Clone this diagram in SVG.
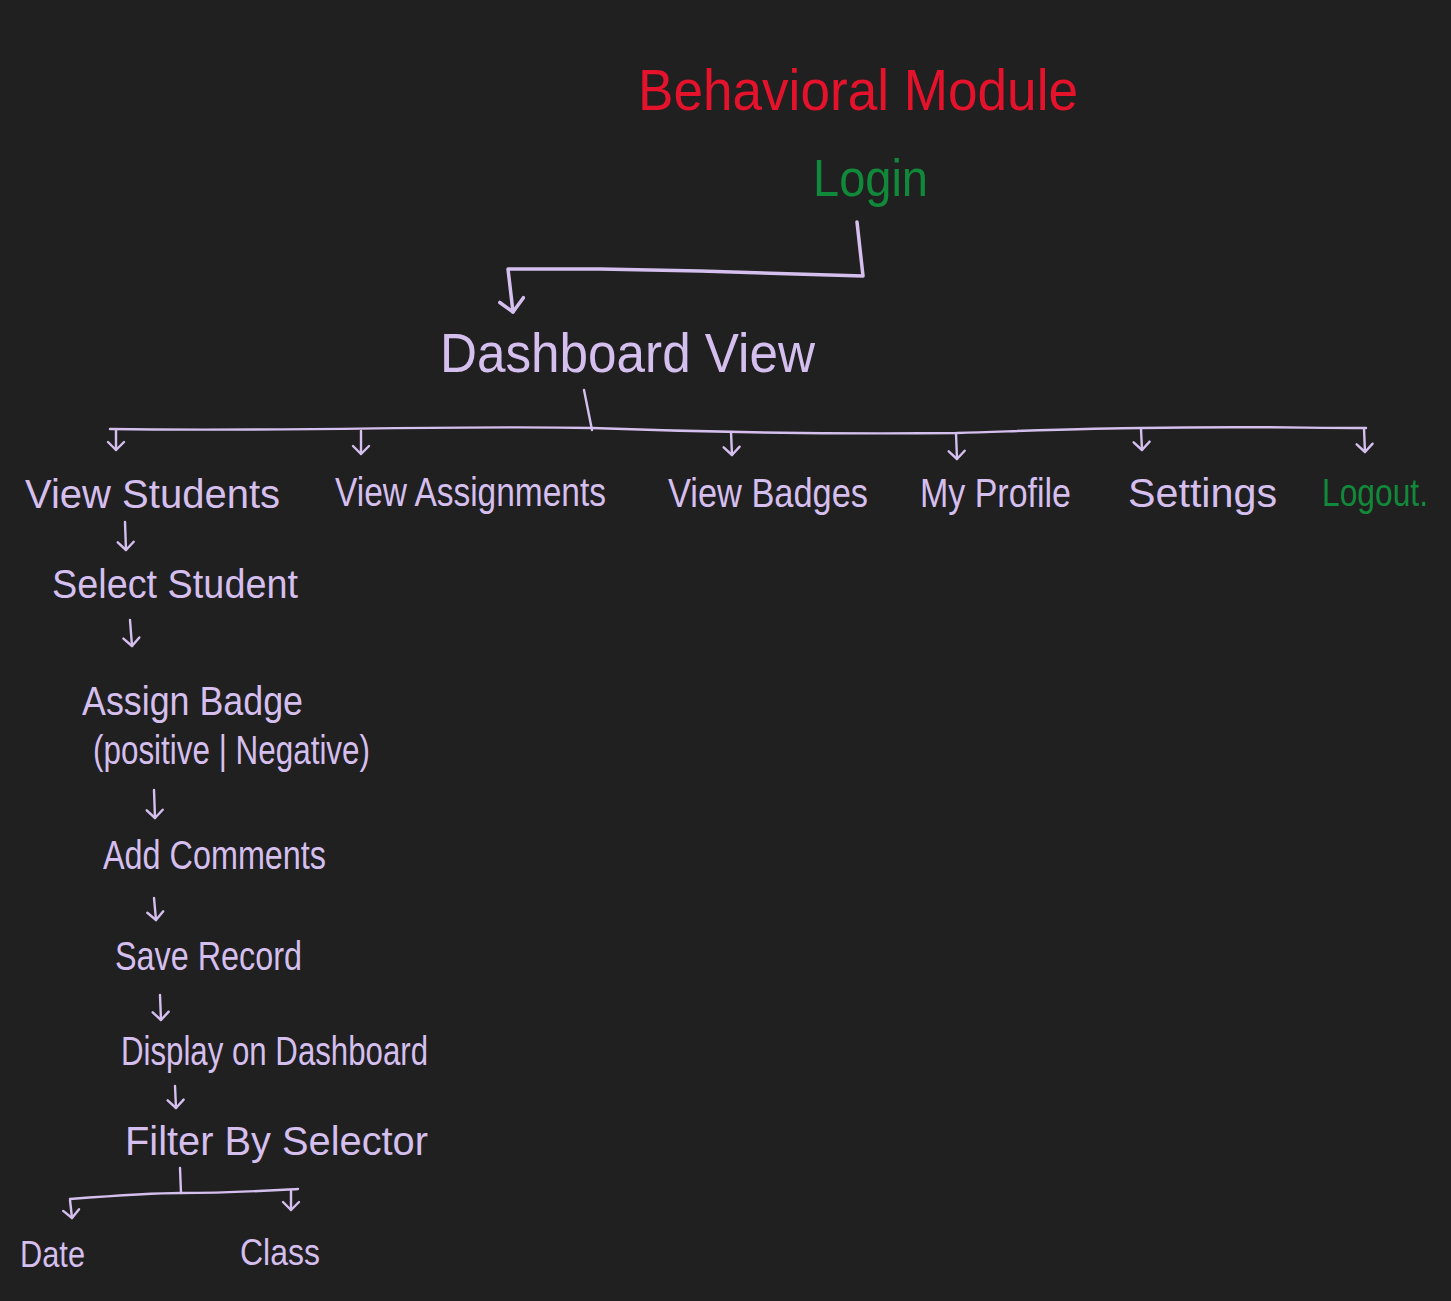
<svg xmlns="http://www.w3.org/2000/svg" width="1451" height="1301" viewBox="0 0 1451 1301">
<defs>
<marker id="ah" viewBox="0 0 20 20" refX="18" refY="10" markerWidth="20" markerHeight="20" markerUnits="userSpaceOnUse" orient="auto">
<path d="M10 2 L18 10 L10 18" fill="none" stroke="#d4bfee" stroke-width="2.4" stroke-linecap="round" stroke-linejoin="round"/>
</marker>
<marker id="ahb" viewBox="0 0 28 28" refX="25" refY="14" markerWidth="28" markerHeight="28" markerUnits="userSpaceOnUse" orient="auto">
<path d="M12 2 L25 14 L14 26" fill="none" stroke="#d4bfee" stroke-width="3.5" stroke-linecap="round" stroke-linejoin="round"/>
</marker>
</defs>
<style>
text{font-family:"Liberation Sans","DejaVu Sans",sans-serif;}
.l{fill:#d4bfee;}
.r{fill:#e5122c;}
.g{fill:#11893a;}
.c{fill:none;stroke:#d4bfee;stroke-width:2.4;stroke-linecap:round;stroke-linejoin:round;}
.cb{fill:none;stroke:#d4bfee;stroke-width:3.5;stroke-linecap:round;stroke-linejoin:round;}
</style>
<rect width="1451" height="1301" fill="#212020"/>
<g id="title"><text class="r" x="638" y="110" font-size="58" textLength="440" lengthAdjust="spacingAndGlyphs">Behavioral Module</text></g>
<g id="login"><text class="g" x="813" y="196" font-size="52" textLength="115" lengthAdjust="spacingAndGlyphs">Login</text></g>
<g id="dashboard"><text class="l" x="440" y="372" font-size="56" textLength="375" lengthAdjust="spacingAndGlyphs">Dashboard View</text></g>
<g id="view-students"><text class="l" x="25" y="508" font-size="40" textLength="255" lengthAdjust="spacingAndGlyphs">View Students</text></g>
<g id="view-assignments"><text class="l" x="335" y="506" font-size="40" textLength="271" lengthAdjust="spacingAndGlyphs">View Assignments</text></g>
<g id="view-badges"><text class="l" x="668" y="507" font-size="40" textLength="200" lengthAdjust="spacingAndGlyphs">View Badges</text></g>
<g id="my-profile"><text class="l" x="920" y="507" font-size="40" textLength="151" lengthAdjust="spacingAndGlyphs">My Profile</text></g>
<g id="settings"><text class="l" x="1128" y="507" font-size="40" textLength="149" lengthAdjust="spacingAndGlyphs">Settings</text></g>
<g id="logout"><text class="g" x="1322" y="506" font-size="38" textLength="106" lengthAdjust="spacingAndGlyphs">Logout.</text></g>
<g id="select-student"><text class="l" x="52" y="598" font-size="40" textLength="246" lengthAdjust="spacingAndGlyphs">Select Student</text></g>
<g id="assign-badge">
<text class="l" x="82" y="715" font-size="40" textLength="221" lengthAdjust="spacingAndGlyphs">Assign Badge</text>
<text class="l" x="93" y="764" font-size="40" textLength="277" lengthAdjust="spacingAndGlyphs">(positive | Negative)</text>
</g>
<g id="add-comments"><text class="l" x="103" y="869" font-size="40" textLength="223" lengthAdjust="spacingAndGlyphs">Add Comments</text></g>
<g id="save-record"><text class="l" x="115" y="970" font-size="40" textLength="187" lengthAdjust="spacingAndGlyphs">Save Record</text></g>
<g id="display-dashboard"><text class="l" x="121" y="1065" font-size="40" textLength="307" lengthAdjust="spacingAndGlyphs">Display on Dashboard</text></g>
<g id="filter"><text class="l" x="125" y="1155" font-size="40" textLength="303" lengthAdjust="spacingAndGlyphs">Filter By Selector</text></g>
<g id="date"><text class="l" x="20" y="1267" font-size="36" textLength="65" lengthAdjust="spacingAndGlyphs">Date</text></g>
<g id="class"><text class="l" x="240" y="1265" font-size="36" textLength="80" lengthAdjust="spacingAndGlyphs">Class</text></g>
<g id="connectors">
<path class="cb" d="M857 222 L863 276 L700 271 L600 269 L508 269 L513 312" marker-end="url(#ahb)"/>
<path class="c" d="M584 390 L592 430"/>
<path class="c" d="M110 429 C300 432 450 425 592 428 C700 432 850 434 957 433 C1050 430 1100 428 1142 428 C1250 426 1300 428 1366 428"/>
<path class="c" d="M116 430 L116 450" marker-end="url(#ah)"/>
<path class="c" d="M361 431 L361 454" marker-end="url(#ah)"/>
<path class="c" d="M731 432 L732 455" marker-end="url(#ah)"/>
<path class="c" d="M956 433 L957 459" marker-end="url(#ah)"/>
<path class="c" d="M1141 429 L1142 450" marker-end="url(#ah)"/>
<path class="c" d="M1364 429 L1365 452" marker-end="url(#ah)"/>
<path class="c" d="M125 522 L126 550" marker-end="url(#ah)"/>
<path class="c" d="M130 620 L132 646" marker-end="url(#ah)"/>
<path class="c" d="M154 790 L155 818" marker-end="url(#ah)"/>
<path class="c" d="M154 898 L156 920" marker-end="url(#ah)"/>
<path class="c" d="M160 995 L161 1020" marker-end="url(#ah)"/>
<path class="c" d="M175 1086 L176 1108" marker-end="url(#ah)"/>
<path class="c" d="M180 1168 L181 1193"/>
<path class="c" d="M70 1199 C110 1196 150 1193 181 1193 C230 1193 260 1191 298 1189"/>
<path class="c" d="M70 1200 L72 1218" marker-end="url(#ah)"/>
<path class="c" d="M291 1190 L291 1210" marker-end="url(#ah)"/>
</g>
</svg>
